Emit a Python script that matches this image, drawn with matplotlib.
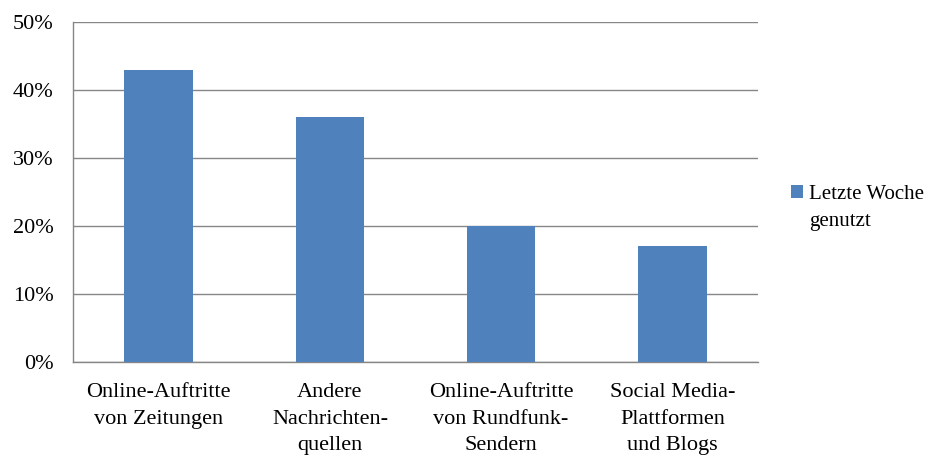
import matplotlib
matplotlib.use("Agg")
import matplotlib.pyplot as plt
from matplotlib.legend_handler import HandlerPatch, update_from_first_child
from matplotlib.patches import Rectangle
from matplotlib.container import BarContainer
import numpy as np

# data
categories = ["Online-Auftritte\nvon Zeitungen", "Andere\nNachrichten-\nquellen",
              "Online-Auftritte\nvon Rundfunk-\nSendern", "Social Media-\nPlattformen\nund Blogs"]
values = [43, 36, 20, 17]
series_name = "Letzte Woche\ngenutzt"
yticks = [0, 10, 20, 30, 40, 50]

plt.rcParams['font.family'] = ['Liberation Serif', 'DejaVu Serif']
fs = 16
bar_color = '#4F81BD'
grid_color = '#868686'

def top_square(legend, orig_handle, xdescent, ydescent, width, height, fontsize):
	# put the legend square next to the first text line
	return Rectangle((-xdescent, -ydescent + fontsize * 0.78), width, height)

fig = plt.figure(figsize=(9.29, 4.57), dpi=100)
ax = fig.add_axes([0.0786, 0.2079, 0.7373, 0.744])

x = np.arange(len(categories))
ax.bar(x, values, width=0.40, color=bar_color, label=series_name, zorder=3)

ax.set_xlim(-0.5, len(categories) - 0.5)
ax.set_ylim(0, 50)
ax.set_yticks(yticks)
ax.set_yticklabels([str(v) + '%' for v in yticks], fontsize=fs)
ax.set_xticks(x)
ax.set_xticklabels(categories, fontsize=fs, linespacing=1.55)
ax.tick_params(axis='both', length=0)
ax.tick_params(axis='y', pad=14)
ax.tick_params(axis='x', pad=15)

ax.grid(axis='y', color=grid_color, linewidth=1.0, zorder=0)
for s in ['top', 'right']:
	ax.spines[s].set_visible(False)
for s in ['left', 'bottom']:
	ax.spines[s].set_color(grid_color)
	ax.spines[s].set_linewidth(1.0)

leg = ax.legend(loc='upper left', bbox_to_anchor=(0.851, 0.595), bbox_transform=fig.transFigure,
                frameon=False, fontsize=15, handlelength=0.6, handleheight=0.6,
                handletextpad=0.3, borderaxespad=0, borderpad=0,
                handler_map={BarContainer: HandlerPatch(patch_func=top_square,
                                                        update_func=update_from_first_child)})
for t in leg.get_texts():
	t.set_linespacing(1.55)

fig.savefig("out.png", dpi=100)
